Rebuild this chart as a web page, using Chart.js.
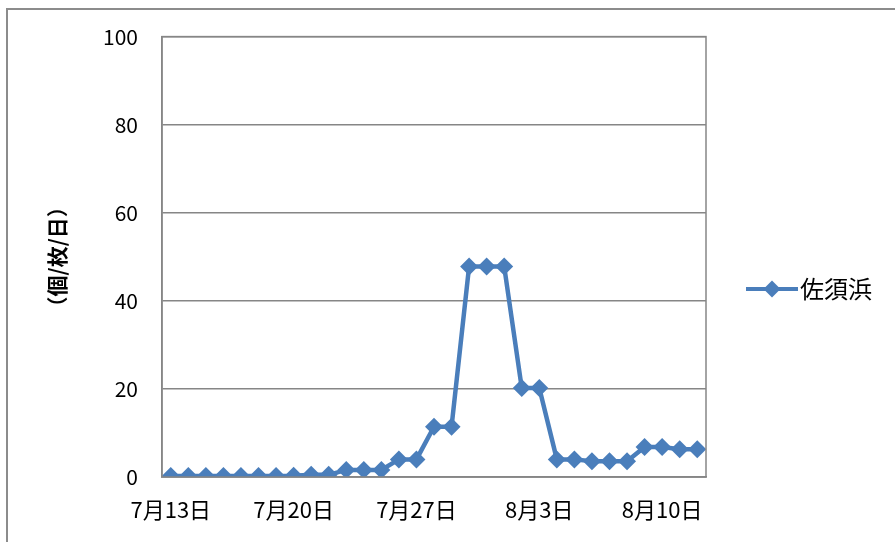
<!DOCTYPE html>
<html>
<head>
<meta charset="utf-8">
<script src="https://cdn.jsdelivr.net/npm/chart.js@4"></script>
<style>
  body { margin: 0; background: #fff; overflow: hidden; }
  .frame { position: absolute; left: 6px; top: 8px; width: 1000px; height: 1000px; border: 2px solid #8c8c8c; }
  .wrap { position: absolute; left: 0; top: 0; width: 895px; height: 542px; }
</style>
</head>
<body>
<div class="frame"></div>
<div class="wrap"><canvas id="c" width="895" height="542"></canvas></div>
<script>
// dates shown on the category axis (one per day)
const days = [
    '7月13日', '7月14日', '7月15日', '7月16日', '7月17日', '7月18日', '7月19日',
    '7月20日', '7月21日', '7月22日', '7月23日', '7月24日', '7月25日', '7月26日',
    '7月27日', '7月28日', '7月29日', '7月30日', '7月31日', '8月1日', '8月2日',
    '8月3日', '8月4日', '8月5日', '8月6日', '8月7日', '8月8日', '8月9日',
    '8月10日', '8月11日', '8月12日'
];
// 佐須浜 counts (個/枚/日)
const sasuhama = [
    0.2, 0.2, 0.2, 0.2, 0.2, 0.2, 0.2,
    0.3, 0.5, 0.5, 1.6, 1.6, 1.6, 4.0,
    4.0, 11.4, 11.4, 47.8, 47.8, 47.8, 20.2,
    20.2, 4.0, 4.0, 3.6, 3.6, 3.6, 6.8,
    6.8, 6.3, 6.3
];
const yTicks = [0, 20, 40, 60, 80, 100];
const seriesName = '佐須浜';
const yTitle = '（個/枚/日）';

const BLUE = '#4a7ebb';
const GRID = '#868686';
const JP = '"Noto Sans CJK JP", "Noto Sans", sans-serif';

// legend symbol: line with a diamond in the middle
function legendSymbol() {
    const c = document.createElement('canvas');
    c.width = 92; c.height = 20;
    const g = c.getContext('2d');
    g.strokeStyle = BLUE;
    g.lineWidth = 4;
    g.beginPath();
    g.moveTo(40, 10); g.lineTo(92, 10);
    g.stroke();
    g.fillStyle = BLUE;
    g.beginPath();
    g.moveTo(66, 1.5); g.lineTo(74.5, 10); g.lineTo(66, 18.5); g.lineTo(57.5, 10);
    g.closePath();
    g.fill();
    return c;
}
const symbol = legendSymbol();

// gray box round the plot area
const plotFrame = {
    id: 'plotFrame',
    afterDraw(chart) {
        const a = chart.chartArea, ctx = chart.ctx;
        ctx.save();
        ctx.strokeStyle = GRID;
        ctx.lineWidth = 1.5;
        ctx.strokeRect(a.left, a.top, a.right - a.left, a.bottom - a.top);
        ctx.restore();
    }
};

new Chart(document.getElementById('c'), {
    type: 'line',
    data: {
        labels: days,
        datasets: [{
            label: seriesName,
            data: sasuhama,
            borderColor: BLUE,
            backgroundColor: BLUE,
            borderWidth: 4.5,
            pointStyle: 'rectRot',
            pointRadius: 9,
            pointBorderWidth: 0,
            pointBackgroundColor: BLUE,
            tension: 0,
            fill: false
        }]
    },
    options: {
        responsive: false,
        animation: false,
        layout: { padding: { left: 44, top: 36, right: 13, bottom: 0 } },
        scales: {
            x: {
                offset: true,
                grid: { display: false, drawTicks: false },
                border: { display: true, color: GRID, width: 1.5 },
                ticks: {
                    autoSkip: false,
                    maxRotation: 0,
                    padding: 19,
                    color: '#000',
                    font: { family: JP, size: 22 },
                    callback: function(v, i) { return i % 7 === 0 ? days[i] : ''; }
                },
                afterFit: function(s) { s.height = 65; }
            },
            y: {
                min: 0,
                max: 100,
                afterBuildTicks: function(s) { s.ticks = yTicks.map(v => ({ value: v })); },
                grid: { color: GRID, lineWidth: 1.5, drawTicks: false },
                border: { display: true, color: GRID, width: 1.5 },
                ticks: {
                    padding: 24,
                    color: '#000',
                    font: { family: JP, size: 21 }
                },
                title: {
                    display: true,
                    text: yTitle,
                    color: '#000',
                    padding: 0,
                    font: { family: JP, size: 21, weight: 'bold' }
                },
                afterFit: function(s) { s.width = 118; }
            }
        },
        plugins: {
            tooltip: { enabled: false },
            legend: {
                position: 'right',
                labels: {
                    usePointStyle: true,
                    pointStyleWidth: 72,
                    padding: 10,
                    color: '#000',
                    font: { family: JP, size: 24 },
                    generateLabels: function(chart) {
                        return [{
                            text: seriesName,
                            pointStyle: symbol,
                            fillStyle: BLUE,
                            strokeStyle: BLUE,
                            lineWidth: 0,
                            datasetIndex: 0
                        }];
                    }
                }
            }
        }
    },
    plugins: [plotFrame]
});
</script>
</body>
</html>
